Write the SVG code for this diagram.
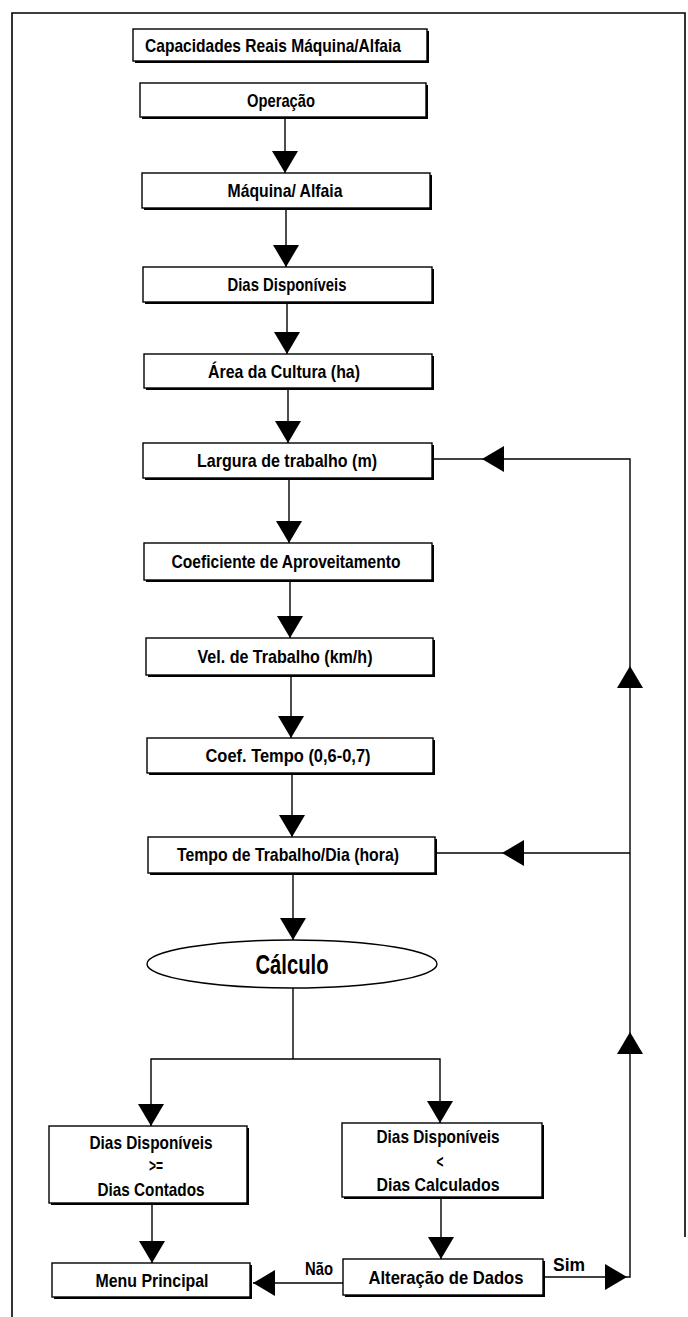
<svg xmlns="http://www.w3.org/2000/svg" width="688" height="1317" viewBox="0 0 688 1317">
  <style>
    .frame { fill: none; stroke: #000; stroke-width: 1.6; }
    .box { fill: #fff; stroke: #000; stroke-width: 1.4; }
    .shadow { fill: #000; }
    .conn path { fill: none; stroke: #000; stroke-width: 1.4; }
    .ell { fill: #fff; stroke: #000; stroke-width: 1.4; }
    text { font-family: "Liberation Sans Narrow", "Liberation Sans", Arial, sans-serif; font-size: 18.5px; font-weight: bold; fill: #000; text-anchor: middle; }
    .big { font-size: 27px; }
  </style>
  <defs>
    <marker id="ah" markerUnits="userSpaceOnUse" markerWidth="22" markerHeight="26" viewBox="0 0 22 26" refX="22" refY="13" orient="auto">
      <path d="M0,0 L22,13 L0,26 z" fill="#000"/>
    </marker>
  </defs>

  <rect width="688" height="1317" fill="#fff"/>

  <!-- page frame -->
  <g id="frame" class="frame">
    <path d="M12,1317 V13 H685 V1237"/>
  </g>

  <!-- connectors -->
  <g id="connectors" class="conn">
    <path d="M285,117 V173" marker-end="url(#ah)"/>
    <path d="M286,208 V267" marker-end="url(#ah)"/>
    <path d="M287,302 V354" marker-end="url(#ah)"/>
    <path d="M288,388 V443" marker-end="url(#ah)"/>
    <path d="M289,478 V543" marker-end="url(#ah)"/>
    <path d="M290,580 V638" marker-end="url(#ah)"/>
    <path d="M291,675 V738" marker-end="url(#ah)"/>
    <path d="M292,773 V837" marker-end="url(#ah)"/>
    <path d="M293,873 V940" marker-end="url(#ah)"/>
    <path d="M293,988 V1059"/>
    <path d="M293,1059 H151 V1126" marker-end="url(#ah)"/>
    <path d="M293,1059 H440 V1123" marker-end="url(#ah)"/>
    <path d="M152,1203 V1263" marker-end="url(#ah)"/>
    <path d="M441,1197 V1259" marker-end="url(#ah)"/>
    <path d="M343,1283 H253" marker-end="url(#ah)"/>
    <path d="M543,1277 H627" marker-end="url(#ah)"/>
    <path d="M627,1277 H630 V1032" marker-end="url(#ah)"/>
    <path d="M630,1032 V666" marker-end="url(#ah)"/>
    <path d="M630,666 V459 H482" marker-end="url(#ah)"/>
    <path d="M482,459 H433"/>
    <path d="M630,853 H502" marker-end="url(#ah)"/>
    <path d="M502,853 H435"/>
  </g>

  <!-- connector labels -->
  <g id="labels">
    <text x="319" y="1275" textLength="28" lengthAdjust="spacingAndGlyphs">Não</text>
    <text x="569" y="1271" textLength="32" lengthAdjust="spacingAndGlyphs">Sim</text>
  </g>

  <g id="n-capacidades">
    <rect class="shadow" x="135" y="31" width="294" height="32"/>
    <rect class="box" x="133" y="29" width="294" height="32"/>
    <text x="273" y="52" textLength="256" lengthAdjust="spacingAndGlyphs">Capacidades Reais Máquina/Alfaia</text>
  </g>

  <g id="n-operacao">
    <rect class="shadow" x="142" y="85" width="286" height="34"/>
    <rect class="box" x="140" y="83" width="286" height="34"/>
    <text x="281" y="107" textLength="68" lengthAdjust="spacingAndGlyphs">Operação</text>
  </g>

  <g id="n-maquina">
    <rect class="shadow" x="144" y="175" width="288" height="35"/>
    <rect class="box" x="142" y="173" width="288" height="35"/>
    <text x="285" y="197" textLength="115" lengthAdjust="spacingAndGlyphs">Máquina/ Alfaia</text>
  </g>

  <g id="n-dias">
    <rect class="shadow" x="145" y="269" width="289" height="35"/>
    <rect class="box" x="143" y="267" width="289" height="35"/>
    <text x="287" y="291" textLength="119" lengthAdjust="spacingAndGlyphs">Dias Disponíveis</text>
  </g>

  <g id="n-area">
    <rect class="shadow" x="146" y="356" width="288" height="34"/>
    <rect class="box" x="144" y="354" width="288" height="34"/>
    <text x="284" y="378" textLength="152" lengthAdjust="spacingAndGlyphs">Área da Cultura (ha)</text>
  </g>

  <g id="n-largura">
    <rect class="shadow" x="145" y="445" width="289" height="35"/>
    <rect class="box" x="143" y="443" width="289" height="35"/>
    <text x="287" y="467" textLength="180" lengthAdjust="spacingAndGlyphs">Largura de trabalho (m)</text>
  </g>

  <g id="n-coeficiente">
    <rect class="shadow" x="146" y="545" width="288" height="37"/>
    <rect class="box" x="144" y="543" width="288" height="37"/>
    <text x="286" y="568" textLength="229" lengthAdjust="spacingAndGlyphs">Coeficiente de Aproveitamento</text>
  </g>

  <g id="n-velocidade">
    <rect class="shadow" x="148" y="640" width="287" height="37"/>
    <rect class="box" x="146" y="638" width="287" height="37"/>
    <text x="285" y="663" textLength="175" lengthAdjust="spacingAndGlyphs">Vel. de Trabalho (km/h)</text>
  </g>

  <g id="n-coef-tempo">
    <rect class="shadow" x="149" y="740" width="286" height="35"/>
    <rect class="box" x="147" y="738" width="286" height="35"/>
    <text x="288" y="762" textLength="165" lengthAdjust="spacingAndGlyphs">Coef. Tempo (0,6-0,7)</text>
  </g>

  <g id="n-tempo">
    <rect class="shadow" x="150" y="839" width="287" height="36"/>
    <rect class="box" x="148" y="837" width="287" height="36"/>
    <text x="288" y="861" textLength="222" lengthAdjust="spacingAndGlyphs">Tempo de Trabalho/Dia (hora)</text>
  </g>

  <g id="n-calculo">
    <ellipse class="ell" cx="292" cy="964" rx="145" ry="24"/>
    <text class="big" x="292" y="974" textLength="73" lengthAdjust="spacingAndGlyphs">Cálculo</text>
  </g>

  <g id="n-suficiente">
    <rect class="shadow" x="51" y="1128" width="198" height="77"/>
    <rect class="box" x="49" y="1126" width="198" height="77"/>
    <text x="151" y="1149" textLength="123" lengthAdjust="spacingAndGlyphs">Dias Disponíveis</text>
    <text x="156" y="1172" textLength="14" lengthAdjust="spacingAndGlyphs">&gt;=</text>
    <text x="151" y="1196" textLength="107" lengthAdjust="spacingAndGlyphs">Dias Contados</text>
  </g>

  <g id="n-insuficiente">
    <rect class="shadow" x="344" y="1125" width="200" height="74"/>
    <rect class="box" x="342" y="1123" width="200" height="74"/>
    <text x="438" y="1143" textLength="123" lengthAdjust="spacingAndGlyphs">Dias Disponíveis</text>
    <text x="440" y="1168" textLength="7" lengthAdjust="spacingAndGlyphs">&lt;</text>
    <text x="438" y="1191" textLength="123" lengthAdjust="spacingAndGlyphs">Dias Calculados</text>
  </g>

  <g id="n-menu">
    <rect class="shadow" x="54" y="1265" width="198" height="34"/>
    <rect class="box" x="52" y="1263" width="198" height="34"/>
    <text x="152" y="1287" textLength="113" lengthAdjust="spacingAndGlyphs">Menu Principal</text>
  </g>

  <g id="n-alteracao">
    <rect class="shadow" x="345" y="1261" width="200" height="36"/>
    <rect class="box" x="343" y="1259" width="200" height="36"/>
    <text x="446" y="1284" textLength="155" lengthAdjust="spacingAndGlyphs">Alteração de Dados</text>
  </g>
</svg>
